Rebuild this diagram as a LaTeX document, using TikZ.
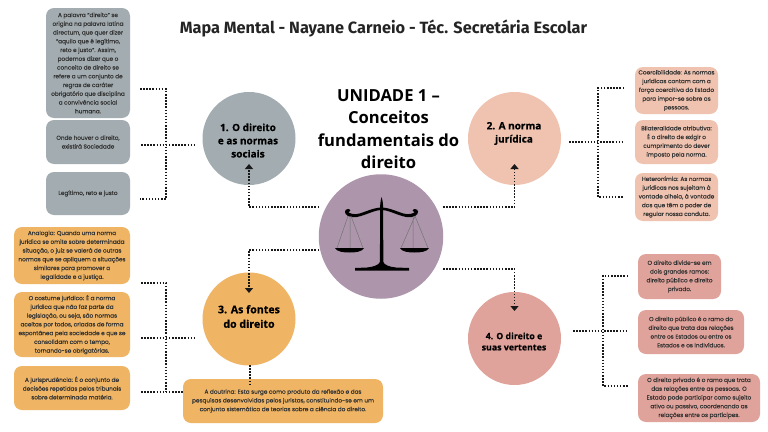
\documentclass[tikz,border=0pt]{standalone}
\usepackage{fontspec}
\setmainfont{Poppins}[FakeBold=0.25]
\newfontfamily\headf{Open Sans}
\newfontfamily\hubf{Open Sans}[BoldFeatures={FakeBold=0.5}]
\newfontfamily\titlef{Fira Sans}
\usetikzlibrary{arrows.meta,calc}
\definecolor{cgrey}{HTML}{A3ADB1}
\definecolor{corange}{HTML}{EFB565}
\definecolor{cpeach}{HTML}{EFC3B0}
\definecolor{crose}{HTML}{DFA39B}
\definecolor{cmauve}{HTML}{AD96AB}
\definecolor{ctext}{HTML}{333333}
\tikzset{
  infobox/.style={rounded corners=8pt,inner sep=0pt,align=center,text=ctext,
    font=\fontsize{5.75}{8.75}\selectfont},
  hub/.style={circle,inner sep=0pt,minimum size=93pt},
  hubtext/.style={align=center,text=black,inner sep=0pt,font=\hubf\fontsize{10}{13.2}\selectfont\bfseries},
  dots/.style={line width=1.8pt,dash pattern=on 1.5pt off 1.6pt,black!90},
  dotarrow/.style={dots,-{Triangle[width=8pt,length=5pt]}},
}
\newcommand{\ibox}[7]{% name, colour, x1,y1,x2,y2, text
  \node[infobox,fill=#2,minimum width={#5-#3},minimum height={#6-#4}] (#1) at ({(#3+#5)/2},{(#4+#6)/2}) {#7};}
\begin{document}
\begin{tikzpicture}[x=1pt,y=-1pt]
\useasboundingbox (0,0) rectangle (768,431);
\fill[white] (0,0) rectangle (768,431);

% title
\node[inner sep=0pt,text=ctext!70!black,font=\titlef\fontsize{16.3}{18}\selectfont\bfseries] (title) at (383.5,29) {Mapa Mental - Nayane Carneio - Téc. Secretária Escolar};
\node[inner sep=0pt,align=center,font=\headf\fontsize{16.6}{22.3}\selectfont\bfseries] (unit) at (388.5,129) {UNIDADE 1 –\\Conceitos\\fundamentais do\\direito};

% circles
\node[hub,fill=cgrey] (c1) at (249,138.5) {};
\node[hub,fill=cpeach] (c2) at (514.5,138.5) {};
\node[hub,fill=corange] (c3) at (249,319) {};
\node[hub,fill=crose] (c4) at (514.5,338.5) {};
\node[circle,inner sep=0pt,minimum size=124.5pt,fill=cmauve] (c0) at (381,236.5) {};

\node[hubtext] (t1) at (248,140.5) {1. O direito\\e as normas\\sociais};
\node[hubtext] (t2) at (514,133.5) {2. A norma\\jurídica};
\node[hubtext,font=\hubf\fontsize{10.6}{14.5}\selectfont\bfseries] (t3) at (249,316.5) {3. As fontes\\do direito};
\node[hubtext,font=\hubf\fontsize{8.8}{11.2}\selectfont\bfseries] (t4) at (514,341.5) {4. O direito e\\suas vertentes};

% scale
\fill[black] (379.9,262) -- (380.2,205) -- (380.6,201) -- (381.6,197) -- (382.6,201) -- (383,205) -- (383.4,262)
  .. controls (384,265) and (390,267) .. (396,267.5) -- (409,268) -- (409,270.5) -- (355,270.5) -- (355,268) -- (367,267.5)
  .. controls (373,267) and (379,265) .. (379.9,262) -- cycle;
\fill[black] (348,216) .. controls (353,218.5) and (358,217) .. (364,215)
  .. controls (370,213) and (376,210) .. (381.6,210) .. controls (387,210) and (393,213) .. (399,215)
  .. controls (405,217) and (410,218.5) .. (415,216) .. controls (419,214) and (419,209) .. (415,209)
  .. controls (412,209) and (412,212) .. (414.5,212.5)
  .. controls (410,215) and (405,214.5) .. (399,212) .. controls (392,209.5) and (387,207.5) .. (381.6,207.5)
  .. controls (376,207.5) and (371,209.5) .. (364,212) .. controls (358,214.5) and (353,215) .. (348.5,212.5)
  .. controls (351,212) and (351,209) .. (348,209) .. controls (344,209) and (344,214) .. (348,216) -- cycle;
\draw[black!55,line width=.5pt] (348,216) -- (337,248) (350,216) -- (350,248) (351,216) -- (363,248);
\draw[black!55,line width=.5pt] (415,216) -- (401,248) (413,216) -- (413,248) (415,216) -- (428,248);
\fill[black] (335,248) -- (364,248) .. controls (362,252) and (355,252.5) .. (349.5,252.5) .. controls (344,252.5) and (337,252) .. (335,248) -- cycle;
\fill[black] (400,248) -- (429,248) .. controls (427,252) and (420,252.5) .. (414.5,252.5) .. controls (409,252.5) and (402,252) .. (400,248) -- cycle;

% info boxes
\ibox{g1}{cgrey}{46}{8}{130}{118}{A palavra "direito" se\\origina na palavra latina\\directum, que quer dizer\\"aquilo que é legítimo,\\reto e justo". Assim,\\podemos dizer que o\\conceito de direito se\\refere a um conjunto de\\regras de caráter\\obrigatório que disciplina\\a convivência social\\humana.}
\ibox{g2}{cgrey}{46}{120}{130}{164}{Onde houver  o direito,\\existirá Sociedade}
\ibox{g3}{cgrey}{46}{172}{130}{215}{Legítimo, reto e justo}

\ibox{o1}{corange}{14}{227}{130}{284}{Analogia: Quando uma norma\\jurídica se omite sobre determinada\\situação, o juiz se valerá de outras\\normas que se apliquem a situações\\similares para promover a\\legalidade e a justiça.}
\ibox{o2}{corange}{14}{292}{130}{357}{O costume jurídico: É a norma\\jurídica que não faz parte da\\legislação, ou seja, são normas\\aceitas por todos, criadas de forma\\espontânea pela sociedade e que se\\consolidam com o tempo,\\tornando-se obrigatórias.}
\ibox{o3}{corange}{14}{366}{130}{410}{A jurisprudência: É o conjunto de\\decisões repetidas pelos tribunais\\sobre determinada matéria.}
\ibox{o4}{corange}{183}{379}{383}{423}{A doutrina: Esta surge como produto da reflexão e das\\pesquisas desenvolvidas pelos juristas, constituindo-se em um\\conjunto sistemático de teorias sobre a ciência do direito.}

\ibox{p1}{cpeach}{635}{67}{718}{114}{Coercibilidade: As normas\\jurídicas contam com a\\força coercitiva do Estado\\para impor-se sobre as\\pessoas.}
\ibox{p2}{cpeach}{635}{120}{718}{164}{Bilateralidade atributiva:\\É o direito de exigir o\\cumprimento do dever\\imposto pela norma.}
\ibox{p3}{cpeach}{635}{173}{718}{221}{Heteronímia: As normas\\jurídicas nos sujeitam à\\vontade alheia, à vontade\\dos que têm o poder de\\regular nossa conduta.}

\ibox{r1}{crose}{638}{254}{721}{299}{O direito divide-se em\\dois grandes ramos:\\direito público e direito\\privado.}
\ibox{r2}{crose}{638}{310}{744}{354}{O direito público é o ramo do\\direito que trata das relações\\entre os Estados ou entre os\\Estados e os indivíduos.}
\ibox{r3}{crose}{638}{374}{760}{422}{O direito privado é o ramo que trata\\das relações entre as pessoas. O\\Estado pode participar como sujeito\\ativo ou passivo, coordenando as\\relações entre os partícipes.}

% connector end points
\coordinate (a1) at (319,207); \coordinate (a1b) at (249,207); \coordinate (a1t) at (249,164);
\coordinate (a3) at (319,250); \coordinate (a3b) at (249,250); \coordinate (a3t) at (249,293);
\coordinate (a2) at (443,207); \coordinate (a2b) at (514.5,207); \coordinate (a2t) at (514.5,164);
\coordinate (a4) at (443,269); \coordinate (a4b) at (514.5,269); \coordinate (a4t) at (514.5,311);
\draw[dotarrow] (a1) -- (a1b) -- (a1t);
\draw[dotarrow] (a3) -- (a3b) -- (a3t);
\draw[dotarrow] (a2) -- (a2b) -- (a2t);
\draw[dotarrow] (a4) -- (a4b) -- (a4t);

% group 1 bracket
\coordinate (gb1) at (166,89); \coordinate (gb2) at (166,199);
\coordinate (gs1) at (140,89); \coordinate (gs3) at (140,199);
\coordinate (gm1) at (141,145); \coordinate (gm2) at (195,145);
\draw[dots] (gs1) -- (gb1) -- (gb2) -- (gs3);
\draw[dots] (gm1) -- (gm2);

% group 3 bracket
\coordinate (ob1) at (166,283); \coordinate (ob2) at (166,392);
\coordinate (os1) at (141,283);
\coordinate (om1) at (141,338); \coordinate (om2) at (196,338);
\coordinate (os3) at (141,392);
\draw[dots] (os1) -- (ob1) -- (ob2);
\draw[dots] (om1) -- (om2);
\draw[dots] (os3) -- (o4.west |- os3);
\coordinate (od1) at (250,365); \coordinate (od2) at (250,385);
\draw[dots] (od1) -- (od2);

% group 2 bracket
\coordinate (pb1) at (598,88); \coordinate (pb2) at (598,197);
\coordinate (ps1) at (624,88); \coordinate (ps3) at (624,197);
\coordinate (pm1) at (569,142); \coordinate (pm2) at (624,142);
\draw[dots] (ps1) -- (pb1) -- (pb2) -- (ps3);
\draw[dots] (pm1) -- (pm2);

% group 4 bracket
\coordinate (rb1) at (603,276); \coordinate (rb2) at (603,386);
\coordinate (rs1) at (628,276); \coordinate (rs3) at (628,386);
\coordinate (rm1) at (573,331); \coordinate (rm2) at (628,331);
\draw[dots] (rs1) -- (rb1) -- (rb2) -- (rs3);
\draw[dots] (rm1) -- (rm2);
\end{tikzpicture}
\end{document}
